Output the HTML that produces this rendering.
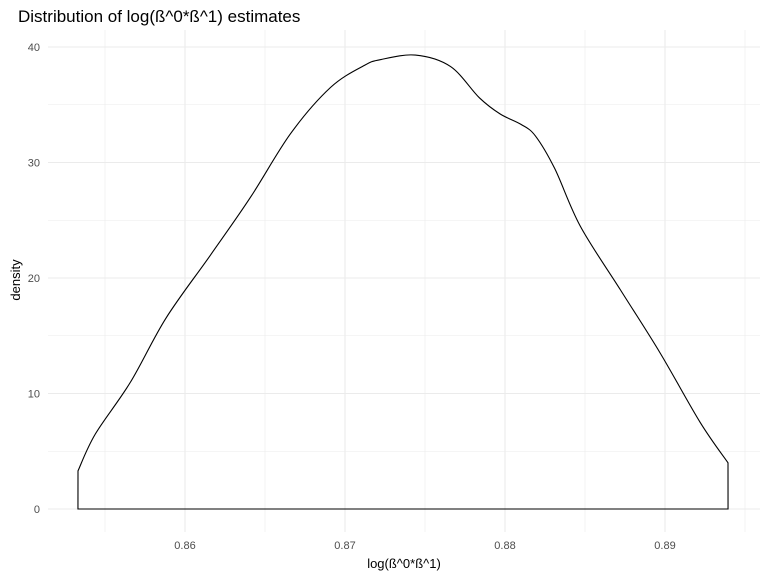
<!DOCTYPE html>
<html><head><meta charset="utf-8"><style>
body{margin:0;background:#fff;}
svg{display:block;font-family:"Liberation Sans",sans-serif;}
</style></head><body>
<svg id="chart" width="768" height="576">
<rect width="768" height="576" fill="#fff"/>
<text x="18" y="22" font-size="17" fill="#000">Distribution of log(ß^0*ß^1) estimates</text>
<g id="grid"></g>
<g id="ticks"></g>
<path id="curve" fill="none" stroke="#000" stroke-width="1.1"/>
<text x="404" y="568" font-size="13" text-anchor="middle" fill="#000">log(ß^0*ß^1)</text>
<text transform="translate(20,280) rotate(-90)" font-size="13" text-anchor="middle" fill="#000">density</text>
</svg>
<script>
const xs=[0.85331,0.8544,0.8566,0.8588,0.8616,0.8641,0.8666,0.8691,0.8712,0.8722,0.8744,0.8766,0.8784,0.8797,0.8810,0.8819,0.8831,0.8847,0.8872,0.8897,0.8922,0.89394];
const ys=[3.3,6.5,11,16.5,22,27,32.5,36.5,38.4,38.9,39.3,38.3,35.6,34.2,33.3,32.3,29.5,24.5,19,13.5,7.5,4];
const xTicks=[0.86,0.87,0.88,0.89];
const yTicks=[0,10,20,30,40];
const sx=v=>185+(v-0.86)*16000;
const sy=v=>509-v*11.55;
const ns="http://www.w3.org/2000/svg";
const grid=document.getElementById('grid'),tk=document.getElementById('ticks');
function line(x1,y1,x2,y2,w,name){const l=document.createElementNS(ns,'line');
l.setAttribute('x1',x1);l.setAttribute('y1',y1);l.setAttribute('x2',x2);l.setAttribute('y2',y2);
l.setAttribute('stroke','#ebebeb');l.setAttribute('stroke-width',w);


grid.appendChild(l);}
function txt(x,y,s,anchor,name){const t=document.createElementNS(ns,'text');
t.setAttribute('x',x);t.setAttribute('y',y);t.setAttribute('font-size','11');t.setAttribute('fill','#4d4d4d');t.setAttribute('text-anchor',anchor);t.textContent=s;


tk.appendChild(t);}
for(let i=0;i<yTicks.length;i++){const v=yTicks[i];line(48,sy(v),760,sy(v),1.1,'y-gridline');
line(48,sy(v+5),760,sy(v+5),0.6,'y-minor-gridline');
txt(40,sy(v)+4,String(v),'end','y-tick-label');}
for(const v of xTicks){line(sx(v),30,sx(v),532,1.1,'x-gridline');
line(sx(v-0.005),30,sx(v-0.005),532,0.6,'x-minor-gridline');
txt(sx(v),549,v.toFixed(2),'middle','x-tick-label');}
line(sx(0.895),30,sx(0.895),532,0.6,'x-minor-gridline');
const P=xs.map((x,i)=>[sx(x),sy(ys[i])]);
let d='M'+P[0][0]+','+sy(0)+' L'+P[0][0].toFixed(1)+','+P[0][1].toFixed(1);
for(let i=0;i<P.length-1;i++){
const p0=P[Math.max(0,i-1)],p1=P[i],p2=P[i+1],p3=P[Math.min(P.length-1,i+2)];
const c1=[p1[0]+(p2[0]-p0[0])/6,p1[1]+(p2[1]-p0[1])/6];
const c2=[p2[0]-(p3[0]-p1[0])/6,p2[1]-(p3[1]-p1[1])/6];
d+=' C'+c1[0].toFixed(1)+','+c1[1].toFixed(1)+' '+c2[0].toFixed(1)+','+c2[1].toFixed(1)+' '+p2[0].toFixed(1)+','+p2[1].toFixed(1);}
d+=' L'+P[P.length-1][0]+','+sy(0)+' Z';
document.getElementById('curve').setAttribute('d',d);
</script>
</body></html>
